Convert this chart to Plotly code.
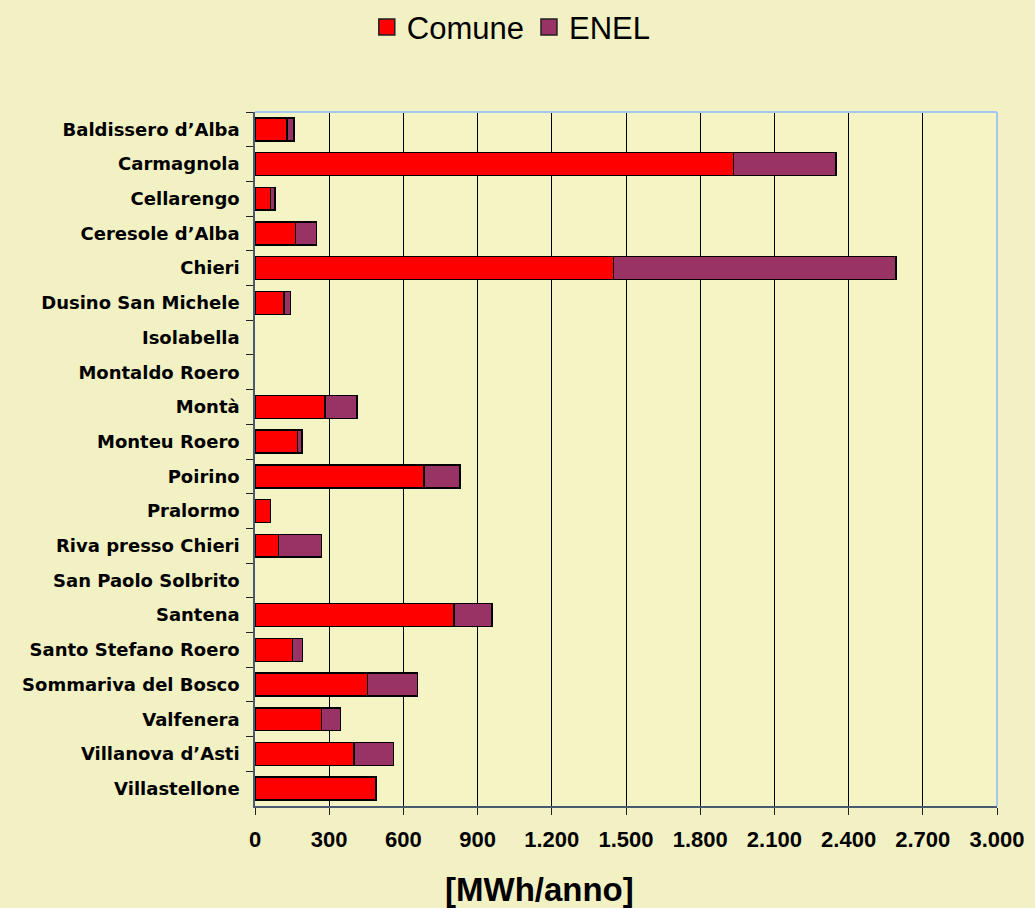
import plotly.graph_objects as go

comuni = ["Baldissero d’Alba", "Carmagnola", "Cellarengo", "Ceresole d’Alba", "Chieri",
          "Dusino San Michele", "Isolabella", "Montaldo Roero", "Montà", "Monteu Roero",
          "Poirino", "Pralormo", "Riva presso Chieri", "San Paolo Solbrito", "Santena",
          "Santo Stefano Roero", "Sommariva del Bosco", "Valfenera", "Villanova d’Asti",
          "Villastellone"]

comune = [130, 1934, 62, 164, 1450, 117, None, None, 283, 172,
          684, 62, 96, None, 805, 151, 455, 269, 400, 489]
enel = [28, 415, 19, 84, 1142, 27, None, None, 130, 19,
        144, None, 173, None, 154, 42, 201, 76, 159, None]

x_ticks = [0, 300, 600, 900, 1200, 1500, 1800, 2100, 2400, 2700, 3000]
x_title = "[MWh/anno]"

RED = "#FF0000"
PURPLE = "#993366"

fig = go.Figure()
fig.add_trace(go.Bar(y=comuni, x=comune, orientation="h", name="Comune",
                     marker=dict(color=RED, line=dict(color="#000000", width=1.5)),
                     showlegend=False))
fig.add_trace(go.Bar(y=comuni, x=enel, orientation="h", name="ENEL",
                     marker=dict(color=PURPLE, line=dict(color="#000000", width=1.5)),
                     showlegend=False))
# legend entries with large square symbols
for nm, col in [("Comune", RED), ("ENEL", PURPLE)]:
    fig.add_trace(go.Scatter(x=[None], y=[None], mode="markers", name=nm,
                             marker=dict(symbol="square", size=22, color=col,
                                         line=dict(color="#222222", width=1.5))))

fig.update_layout(
    width=1035, height=908,
    barmode="stack", bargap=0.34,
    paper_bgcolor="#F2F1C4", plot_bgcolor="#F5F4C4",
    margin=dict(l=255, r=38, t=112, b=102, autoexpand=False),
    separators=",.",
    font=dict(family="Liberation Sans, Arial, sans-serif", color="#000000"),
    legend=dict(orientation="h", xref="container", yref="container",
                x=0.494, xanchor="center", y=0.97, yanchor="middle",
                font=dict(size=31, family="Liberation Sans, Arial, sans-serif"),
                bgcolor="rgba(0,0,0,0)", itemsizing="trace", traceorder="normal"),
    xaxis=dict(range=[0, 3000], tickvals=x_ticks, tickformat=",d",
               showgrid=True, gridcolor="#000000", gridwidth=1,
               showline=True, linecolor="#4A5A70", linewidth=1.5,
               ticks="outside", ticklen=7, tickcolor="#222222",
               ticklabelstandoff=6, automargin=False,
               tickfont=dict(family="Liberation Sans, Arial", size=22, weight="bold"),
               zeroline=False, fixedrange=True),
    yaxis=dict(categoryorder="array", categoryarray=comuni, autorange="reversed",
               showline=True, linecolor="#4A5A70", linewidth=1.5,
               ticks="outside", tickson="boundaries", ticklen=7, tickcolor="#222222",
               ticklabelstandoff=10, automargin=False,
               tickfont=dict(family="DejaVu Sans", size=18, weight="bold"),
               showgrid=False, fixedrange=True),
    annotations=[dict(text=x_title, xref="paper", yref="paper", x=0.384, y=-0.121,
                      xanchor="center", yanchor="middle", showarrow=False,
                      font=dict(family="Liberation Sans, Arial", size=33, weight="bold"))],
    shapes=[
        dict(type="line", xref="paper", yref="paper", x0=0, x1=1, y0=1, y1=1,
             line=dict(color="#A6C8F0", width=2), layer="above"),
        dict(type="line", xref="paper", yref="paper", x0=1, x1=1, y0=0, y1=1,
             line=dict(color="#A6C8F0", width=2), layer="above"),
    ],
)

fig.write_html("out.html", config={"displayModeBar": False},
               post_script="document.body.style.margin='0';document.body.style.overflow='hidden';")
